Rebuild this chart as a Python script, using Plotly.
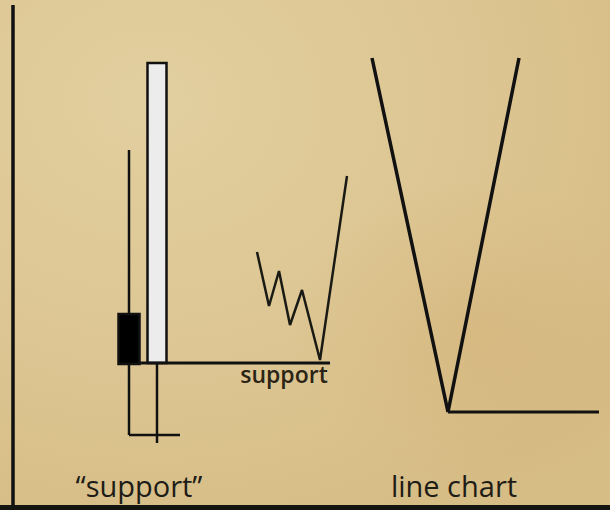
import plotly.graph_objects as go
import base64

# ---- data (x = time position, y = price units; price axis spans 0..510) ----
candle_x = [129, 157]
candle_open = [196, 147]
candle_close = [146, 447]
candle_high = [360, 447]
candle_low = [75, 67]
candle_width = [21, 19]

stop_x = [129, 180]          # horizontal leg under the first candle
stop_price = [75, 75]

support_x = [139, 330]
support_price = [147, 147]

zigzag_x = [257, 269, 279, 290, 302, 320, 347]
zigzag_price = [258, 204, 239, 185, 220, 150, 334]

line_x = [372, 448, 519]
line_price = [452, 98, 452]
line_base_x = [448, 599]
line_base_price = [98, 98]

axis_x = [13, 13]
axis_price = [505, 0]

labels = ["\u201csupport\u201d", "line chart", "support"]
label_x = [139, 454, 284]
label_price = [20, 20, 133]

INK = "#111111"

# parchment background as an inline SVG gradient
svg = """<svg xmlns='http://www.w3.org/2000/svg' width='610' height='510'>
<defs>
<radialGradient id='g1' cx='0.25' cy='0.2' r='0.9'>
<stop offset='0' stop-color='#e2cf9f'/>
<stop offset='0.6' stop-color='#dcc592'/>
<stop offset='1' stop-color='#d6bc85'/>
</radialGradient>
<radialGradient id='g2' cx='0.78' cy='0.65' r='0.3'>
<stop offset='0' stop-color='#d2ac6e' stop-opacity='0.35'/>
<stop offset='1' stop-color='#d2ac6e' stop-opacity='0'/>
</radialGradient>
</defs>
<rect width='610' height='510' fill='url(#g1)'/>
<rect width='610' height='510' fill='url(#g2)'/>
</svg>"""
bg = "data:image/svg+xml;base64," + base64.b64encode(svg.encode()).decode()

fig = go.Figure()

# candle bodies
body_colors = ["#000000", "#ececec"]
for i in range(len(candle_x)):
    lo = min(candle_open[i], candle_close[i])
    hi = max(candle_open[i], candle_close[i])
    fig.add_trace(go.Bar(
        x=[candle_x[i]], y=[hi - lo], base=[lo], width=[candle_width[i]],
        marker=dict(color=body_colors[i], line=dict(color=INK, width=2.5)),
        showlegend=False, hoverinfo="skip"))
    if candle_high[i] > hi:
        fig.add_trace(go.Scatter(x=[candle_x[i], candle_x[i]], y=[hi, candle_high[i]],
                                 mode="lines", line=dict(color=INK, width=2.5),
                                 showlegend=False, hoverinfo="skip"))
    fig.add_trace(go.Scatter(x=[candle_x[i], candle_x[i]], y=[lo, candle_low[i]],
                             mode="lines", line=dict(color=INK, width=2.5),
                             showlegend=False, hoverinfo="skip"))

fig.add_trace(go.Scatter(x=stop_x, y=stop_price, mode="lines",
                         line=dict(color=INK, width=2.5), showlegend=False, hoverinfo="skip"))
fig.add_trace(go.Scatter(x=support_x, y=support_price, mode="lines",
                         line=dict(color=INK, width=3), showlegend=False, hoverinfo="skip"))
fig.add_trace(go.Scatter(x=zigzag_x, y=zigzag_price, mode="lines",
                         line=dict(color="#1a1a14", width=2.5), showlegend=False, hoverinfo="skip"))
fig.add_trace(go.Scatter(x=line_x, y=line_price, mode="lines",
                         line=dict(color=INK, width=3.5), showlegend=False, hoverinfo="skip"))
fig.add_trace(go.Scatter(x=line_base_x, y=line_base_price, mode="lines",
                         line=dict(color=INK, width=3), showlegend=False, hoverinfo="skip"))
fig.add_trace(go.Scatter(x=axis_x, y=axis_price, mode="lines",
                         line=dict(color=INK, width=3.5), showlegend=False, hoverinfo="skip"))

# labels
fig.add_trace(go.Scatter(x=label_x[:2], y=label_price[:2], mode="text", text=labels[:2],
                         textfont=dict(family="Open Sans", size=29, color="#1e1c16", weight=500),
                         showlegend=False, hoverinfo="skip"))
fig.add_trace(go.Scatter(x=label_x[2:], y=label_price[2:], mode="text", text=labels[2:],
                         textfont=dict(family="Open Sans", size=23, color="#2a2416", weight=600),
                         showlegend=False, hoverinfo="skip"))

fig.update_layout(
    width=610, height=510,
    margin=dict(l=0, r=0, t=0, b=0),
    paper_bgcolor="#dbc38f", plot_bgcolor="rgba(0,0,0,0)",
    barmode="overlay",
    images=[dict(source=bg, xref="paper", yref="paper", x=0, y=1,
                 sizex=1, sizey=1, sizing="stretch", layer="below")],
    xaxis=dict(range=[0, 610], visible=False, fixedrange=True),
    yaxis=dict(range=[0, 510], visible=False, fixedrange=True),
    shapes=[dict(type="rect", xref="paper", yref="paper", x0=0, x1=1, y0=0, y1=0.01,
                 fillcolor="#141410", line=dict(width=0), layer="above")],
)

fig.write_html("out.html", config={"displayModeBar": False},
               post_script="document.body.style.margin='0';document.body.style.overflow='hidden';")
